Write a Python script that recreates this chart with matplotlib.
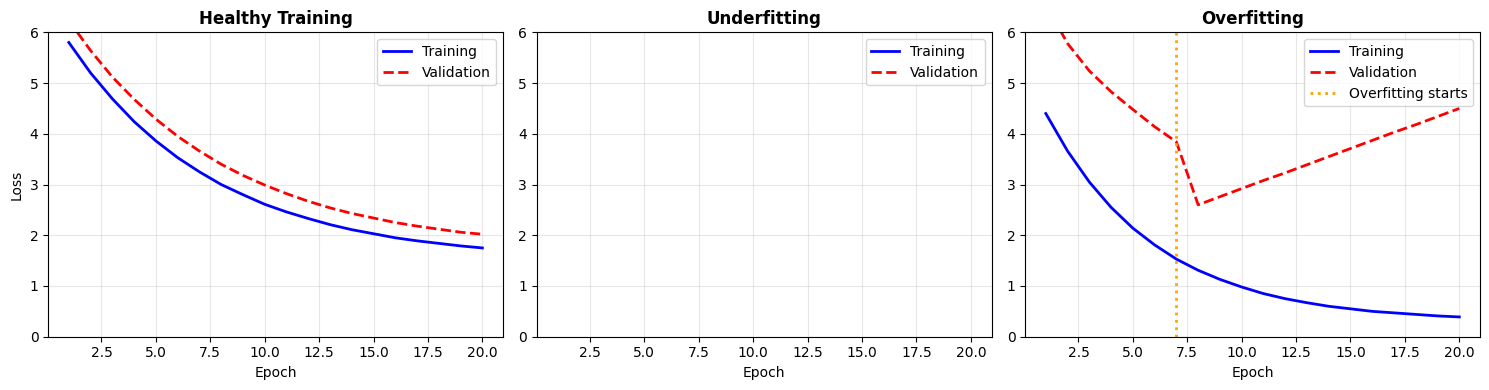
import matplotlib
matplotlib.use("Agg")
import matplotlib.pyplot as plt
import numpy as np

epochs = np.arange(1, 21)

# healthy training
healthy_train = [5.80, 5.20, 4.69, 4.24, 3.86, 3.53, 3.25, 3.00, 2.80, 2.61,
                 2.46, 2.33, 2.21, 2.11, 2.03, 1.95, 1.89, 1.84, 1.79, 1.75]
healthy_val = [6.23, 5.64, 5.12, 4.68, 4.29, 3.95, 3.66, 3.40, 3.18, 2.99,
               2.82, 2.67, 2.54, 2.43, 2.34, 2.25, 2.18, 2.12, 2.06, 2.02]

# underfitting (stays above the visible range)
under_train = [8.6, 8.5, 8.4, 8.35, 8.3, 8.25, 8.2, 8.15, 8.1, 8.1,
               8.05, 8.05, 8.0, 8.0, 8.0, 7.95, 7.95, 7.95, 7.9, 7.9]
under_val = [8.8, 8.7, 8.6, 8.55, 8.5, 8.45, 8.4, 8.35, 8.3, 8.3,
             8.25, 8.25, 8.2, 8.2, 8.2, 8.15, 8.15, 8.15, 8.1, 8.1]

# overfitting
over_train = [4.40, 3.66, 3.05, 2.55, 2.14, 1.81, 1.53, 1.31, 1.13, 0.98,
              0.85, 0.75, 0.67, 0.60, 0.55, 0.50, 0.47, 0.44, 0.41, 0.39]
over_val = [6.55, 5.78, 5.24, 4.83, 4.48, 4.14, 3.84, 2.60, 2.76, 2.92,
            3.08, 3.23, 3.39, 3.55, 3.71, 3.87, 4.03, 4.18, 4.34, 4.50]
overfit_epoch = 7

fig, axes = plt.subplots(1, 3, figsize=(15, 4), dpi=100)

panels = [("Healthy Training", healthy_train, healthy_val),
          ("Underfitting", under_train, under_val),
          ("Overfitting", over_train, over_val)]

for i, (title, tr, va) in enumerate(panels):
    ax = axes[i]
    ax.plot(epochs, tr, 'b-', linewidth=2, label='Training')
    ax.plot(epochs, va, 'r--', linewidth=2, label='Validation')
    if title == "Overfitting":
        ax.axvline(overfit_epoch, color='orange', linestyle=':', linewidth=2, label='Overfitting starts')
    ax.set_title(title, fontweight='bold')
    ax.set_xlabel('Epoch')
    if i == 0:
        ax.set_ylabel('Loss')
    ax.set_ylim(0, 6)
    ax.legend(loc='upper right')
    ax.grid(True, alpha=0.3)

plt.tight_layout()
plt.savefig("out.png", bbox_inches='tight')
